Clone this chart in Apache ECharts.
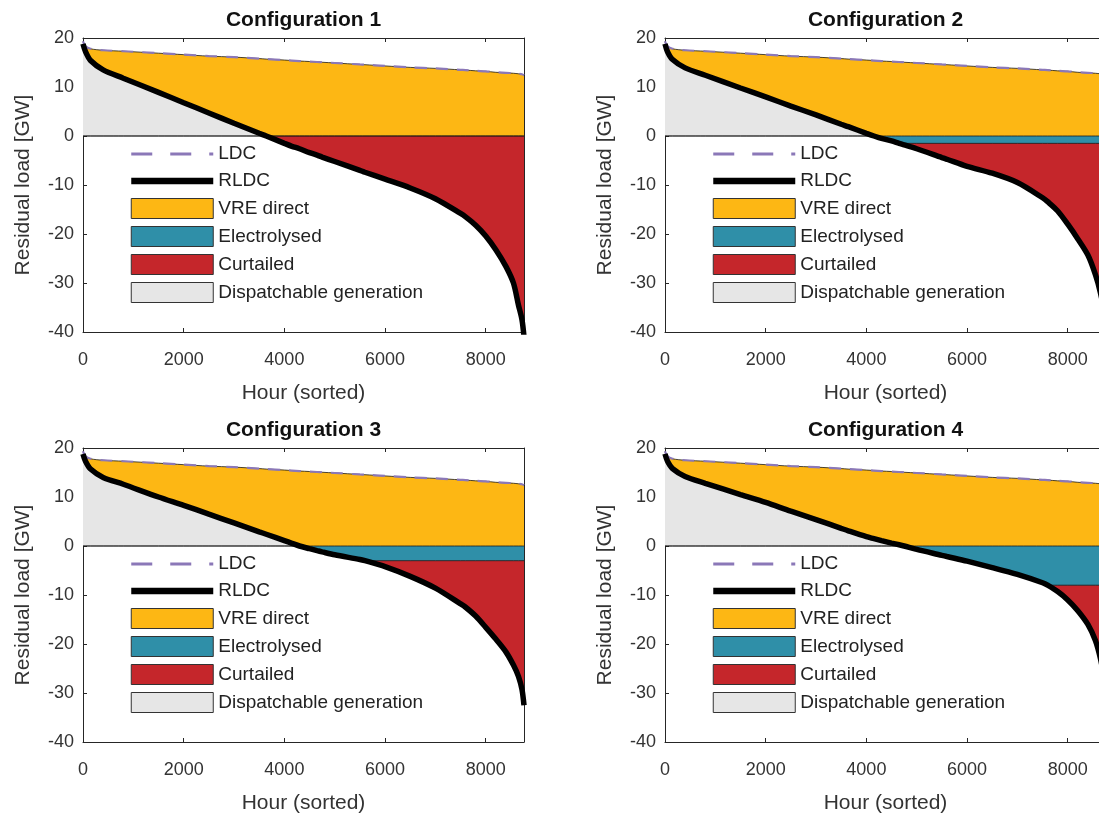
<!DOCTYPE html>
<html><head><meta charset="utf-8">
<script src="https://cdn.jsdelivr.net/npm/echarts@6/dist/echarts.min.js"></script>
<style>html,body{margin:0;padding:0;background:#fff}#c{width:1099px;height:816px}</style>
</head><body><div id="c"></div>
<script>
// ---- data ----
const hours = [0, 50, 150, 400, 800, 1500, 2000, 2500, 3000, 3500, 3640, 4000, 4150, 4300, 4500, 4650, 4750, 5000, 5500, 5600, 6000, 6500, 7000, 7500, 7600, 7800, 8000, 8200, 8400, 8550, 8650, 8720, 8760];
const ldc = [19.3, 18.3, 17.8, 17.5, 17.3, 16.9, 16.6, 16.3, 16.1, 15.8, 15.7, 15.5, 15.4, 15.3, 15.2, 15.1, 15.05, 14.9, 14.6, 14.55, 14.3, 14.0, 13.8, 13.5, 13.45, 13.3, 13.2, 13.0, 12.9, 12.8, 12.7, 12.6, 12.4];
const rldc1 = [18.8, 17.2, 15.4, 13.5, 11.8, 8.9, 6.8, 4.7, 2.6, 0.55, 0, -1.5, -2.1, -2.6, -3.4, -3.9, -4.3, -5.2, -7.0, -7.4, -8.8, -10.6, -12.8, -15.8, -16.5, -18.2, -20.4, -23.2, -26.6, -30.0, -34.5, -37.5, -41];
const rldc2 = [18.8, 17.2, 15.6, 13.9, 12.4, 9.8, 8.0, 6.1, 4.3, 2.4, 1.9, 0.55, 0, -0.5, -1.0, -1.5, -1.8, -2.6, -4.4, -4.75, -6.2, -7.6, -9.5, -12.6, -13.4, -15.3, -18.0, -21.0, -24.3, -28.3, -32.0, -36.0, -41];
const rldc3 = [18.8, 17.3, 15.7, 14.0, 12.6, 10.0, 8.3, 6.5, 4.7, 2.9, 2.4, 1.1, 0.55, 0, -0.55, -0.95, -1.2, -1.8, -2.75, -3.0, -4.2, -6.2, -8.6, -11.8, -12.5, -14.3, -16.6, -19.0, -21.6, -24.3, -26.6, -29.3, -32.5];
const rldc4 = [18.8, 17.3, 15.8, 14.2, 12.8, 10.5, 8.9, 7.1, 5.4, 3.6, 3.1, 1.9, 1.5, 1.1, 0.6, 0.25, 0, -0.7, -1.9, -2.15, -3.1, -4.4, -5.8, -7.5, -8.0, -9.3, -11.0, -13.2, -16.0, -19.3, -23.0, -27.0, -31.0];
const electrolyserCap = [0, 1.5, 3.0, 8.0];
const titles = ['Configuration 1', 'Configuration 2', 'Configuration 3', 'Configuration 4'];
const legendNames = ['LDC', 'RLDC', 'VRE direct', 'Electrolysed', 'Curtailed', 'Dispatchable generation'];
const xTickStep = 2000, xMax = 8760;
const yMin = -40, yMax = 20, yTickStep = 10;

// ---- styling / layout ----
const rldcs = [rldc1, rldc2, rldc3, rldc4];
const FONT = 'Liberation Sans, Arial, Helvetica, sans-serif';
const C = {ldc: '#8b78b8', rldc: '#000000', vre: '#FDB714', elec: '#2F8FA8', curt: '#C5262B', disp: '#E6E6E6', edge: '#1a1a1a'};
const grids = [{left: 83, top: 38}, {left: 665, top: 38}, {left: 83, top: 448}, {left: 665, top: 448}];
const GW = 441, GH = 294;
const SMOOTH = 0.3;

const option = {animation: false, backgroundColor: '#fff', grid: [], xAxis: [], yAxis: [], series: [], title: [], legend: []};

grids.forEach((g, i) => {
  option.grid.push({left: g.left, top: g.top, width: GW, height: GH, containLabel: false, outerBoundsMode: 'none'});
  option.title.push({text: titles[i], left: g.left + GW / 2 - 5, top: g.top - 33, textAlign: 'center',
    textStyle: {fontSize: 21, fontWeight: 'bold', color: '#111', fontFamily: FONT}});
  const axLine = {show: true, onZero: false, lineStyle: {color: '#262626', width: 1}};
  const tick = {show: true, inside: true, length: 4, lineStyle: {color: '#262626'}};
  option.xAxis.push({type: 'value', gridIndex: i, min: 0, max: xMax, interval: xTickStep, position: 'bottom',
    axisLine: axLine, axisTick: tick, splitLine: {show: false},
    axisLabel: {fontSize: 18, color: '#333', fontFamily: FONT, margin: 19, showMaxLabel: false,
      formatter: v => (v % xTickStep === 0 ? String(v) : '')},
    name: 'Hour (sorted)', nameLocation: 'middle', nameGap: 51,
    nameTextStyle: {fontSize: 21, color: '#333', fontFamily: FONT}});
  option.xAxis.push({type: 'value', gridIndex: i, min: 0, max: xMax, interval: xTickStep, position: 'top',
    axisLine: axLine, axisTick: tick, axisLabel: {show: false}, splitLine: {show: false}});
  option.yAxis.push({type: 'value', gridIndex: i, min: yMin, max: yMax, interval: yTickStep, position: 'left',
    axisLine: axLine, axisTick: tick, splitLine: {show: false},
    axisLabel: {fontSize: 18, color: '#333', fontFamily: FONT, margin: 9},
    name: 'Residual load [GW]', nameLocation: 'middle', nameGap: 49,
    nameTextStyle: {fontSize: 21, color: '#333', fontFamily: FONT}});
  option.yAxis.push({type: 'value', gridIndex: i, min: yMin, max: yMax, interval: yTickStep, position: 'right',
    axisLine: axLine, axisTick: tick, axisLabel: {show: false}, splitLine: {show: false}});

  const r = rldcs[i], cap = electrolyserCap[i];
  const base = {type: 'line', xAxisIndex: 2 * i, yAxisIndex: 2 * i, symbol: 'none', silent: true, clip: true, smooth: SMOOTH};
  const edge = {color: C.edge, width: 0.8};
  // layered areas (each filled from its line to 0), painted in order
  const posPart = r.map(v => Math.max(v, 0));
  const negPart = r.map(v => Math.min(v, 0));
  const elecPart = negPart.map(v => Math.max(v, -cap));
  const area = (name, vals, color, sm) => Object.assign({}, base, {name, smooth: sm,
    data: hours.map((h, k) => [h, vals[k]]), itemStyle: {color}, lineStyle: edge,
    areaStyle: {color, opacity: 1, origin: 'auto'}});
  option.series.push(area('VRE direct', ldc, C.vre, SMOOTH));
  option.series.push(area('Dispatchable generation', posPart, C.disp, SMOOTH));
  option.series.push(area('Curtailed', negPart, C.curt, SMOOTH));
  option.series.push(area('Electrolysed', elecPart, C.elec, false));
  option.series.push(Object.assign({}, base, {name: 'LDC',
    data: hours.map((h, k) => [h, ldc[k]]), itemStyle: {color: C.ldc}, lineStyle: {color: C.ldc, width: 2.2, type: [12, 9]}}));
  option.series.push(Object.assign({}, base, {name: 'RLDC',
    data: hours.map((h, k) => [h, r[k]]), itemStyle: {color: C.rldc}, lineStyle: {color: C.rldc, width: 5.5}}));

  const box = {borderColor: '#333', borderWidth: 1};
  const noSym = {color: 'rgba(0,0,0,0)', opacity: 0, borderWidth: 0};
  option.legend.push({orient: 'vertical', left: g.left + 45, top: g.top + 106, padding: 0,
    itemWidth: 82, itemHeight: 20, itemGap: 7, selectedMode: false,
    textStyle: {fontSize: 19, color: '#222', fontFamily: FONT, lineHeight: 20},
    data: [
      {name: legendNames[0], itemStyle: noSym, lineStyle: {color: C.ldc, width: 3, type: [21, 18], opacity: 1}},
      {name: legendNames[1], itemStyle: noSym, lineStyle: {color: C.rldc, width: 6.5, opacity: 1}},
      {name: legendNames[2], icon: 'rect', itemStyle: Object.assign({color: C.vre}, box)},
      {name: legendNames[3], icon: 'rect', itemStyle: Object.assign({color: C.elec}, box)},
      {name: legendNames[4], icon: 'rect', itemStyle: Object.assign({color: C.curt}, box)},
      {name: legendNames[5], icon: 'rect', itemStyle: Object.assign({color: C.disp}, box)}
    ]});
});

const chart = echarts.init(document.getElementById('c'), null, {renderer: 'canvas'});
chart.setOption(option);
</script></body></html>
